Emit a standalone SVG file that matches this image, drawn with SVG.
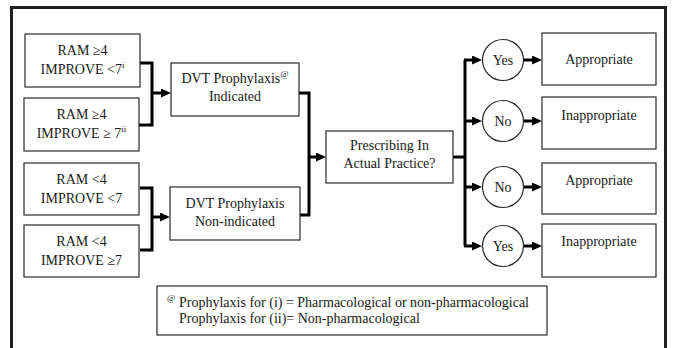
<svg xmlns="http://www.w3.org/2000/svg" width="673" height="348" viewBox="0 0 673 348">
<style>
.box{fill:#fff;stroke:#2a2a2a;stroke-width:1.2}
.t{font-family:'Liberation Serif',Tinos,'Times New Roman','DejaVu Serif',serif;font-size:14px;fill:#1a1a1a;text-anchor:middle}
.tl{font-family:'Liberation Serif',Tinos,'Times New Roman','DejaVu Serif',serif;font-size:14px;fill:#1a1a1a}
.sup{font-size:9px}
.c{fill:none;stroke:#000;stroke-width:3}
</style>
<defs>
<marker id="ah" markerUnits="userSpaceOnUse" markerWidth="11" markerHeight="10" refX="2" refY="4.5" orient="auto">
<path d="M0,0 L10,4.5 L0,9 z" fill="#000"/>
</marker>
</defs>
<rect width="673" height="348" fill="#fff"/>
<path d="M11.5 348 V7.5 H665.5 V348" fill="none" stroke="#222" stroke-width="3"/>

<g id="connectors">
<path class="c" d="M140 63 H152 V125 H139"/>
<path class="c" d="M152 93 H163" marker-end="url(#ah)"/>
<path class="c" d="M140 188 H152 V250 H140"/>
<path class="c" d="M152 217 H162" marker-end="url(#ah)"/>
<path class="c" d="M299 93 H309 V215 H300"/>
<path class="c" d="M309 157 H318" marker-end="url(#ah)"/>
<path class="c" d="M453 157 H465"/>
<path class="c" d="M465 60 V246"/>
<path class="c" d="M464 60 H474" marker-end="url(#ah)"/>
<path class="c" d="M464 121 H474" marker-end="url(#ah)"/>
<path class="c" d="M464 187 H474" marker-end="url(#ah)"/>
<path class="c" d="M464 246 H474" marker-end="url(#ah)"/>
<path class="c" d="M524 60 H534" marker-end="url(#ah)"/>
<path class="c" d="M524 121 H534" marker-end="url(#ah)"/>
<path class="c" d="M524 187 H534" marker-end="url(#ah)"/>
<path class="c" d="M524 246 H534" marker-end="url(#ah)"/>
</g>

<g id="n1"><rect class="box" x="25" y="34" width="115" height="53"/>
<text class="t" x="82.5" y="55">RAM ≥4</text>
<text class="t" x="82.5" y="74">IMPROVE &lt;7<tspan class="sup" dy="-6">i</tspan></text></g>
<g id="n2"><rect class="box" x="24" y="98" width="115" height="53"/>
<text class="t" x="81.5" y="119">RAM ≥4</text>
<text class="t" x="81.5" y="138">IMPROVE ≥ 7<tspan class="sup" dy="-6">ii</tspan></text></g>
<g id="n3"><rect class="box" x="24" y="163" width="115" height="52"/>
<text class="t" x="81.5" y="184">RAM &lt;4</text>
<text class="t" x="81.5" y="203">IMPROVE &lt;7</text></g>
<g id="n4"><rect class="box" x="24" y="225" width="115" height="52"/>
<text class="t" x="81.5" y="246">RAM &lt;4</text>
<text class="t" x="81.5" y="265">IMPROVE ≥7</text></g>

<g id="dvt1"><rect class="box" x="171" y="63" width="128" height="53"/>
<text class="t" x="235" y="83">DVT Prophylaxis<tspan class="sup" dy="-6">@</tspan></text>
<text class="t" x="235" y="101">Indicated</text></g>
<g id="dvt2"><rect class="box" x="170" y="187" width="130" height="53"/>
<text class="t" x="235" y="208">DVT Prophylaxis</text>
<text class="t" x="235" y="226">Non-indicated</text></g>

<g id="presc"><rect class="box" x="326" y="131" width="127" height="52"/>
<text class="t" x="389.5" y="150">Prescribing In</text>
<text class="t" x="389.5" y="168">Actual Practice?</text></g>

<g id="c1"><ellipse class="box" cx="503" cy="60" rx="20.5" ry="20.5"/><text class="t" x="503" y="65">Yes</text></g>
<g id="c2"><ellipse class="box" cx="503" cy="121" rx="20.5" ry="20.5"/><text class="t" x="503" y="126">No</text></g>
<g id="c3"><ellipse class="box" cx="503" cy="187" rx="20.5" ry="20.5"/><text class="t" x="503" y="192">No</text></g>
<g id="c4"><ellipse class="box" cx="503" cy="246" rx="20.5" ry="20.5"/><text class="t" x="503" y="251">Yes</text></g>

<g id="r1"><rect class="box" x="542" y="33" width="114" height="52"/><text class="t" x="599" y="64">Appropriate</text></g>
<g id="r2"><rect class="box" x="542" y="97" width="114" height="52"/><text class="t" x="599" y="120">Inappropriate</text></g>
<g id="r3"><rect class="box" x="542" y="163" width="114" height="51"/><text class="t" x="599" y="185">Appropriate</text></g>
<g id="r4"><rect class="box" x="542" y="224" width="114" height="53"/><text class="t" x="599" y="246">Inappropriate</text></g>

<g id="legend"><rect class="box" x="157" y="286" width="390" height="49"/>
<text class="tl" x="167" y="307"><tspan class="sup" dy="-6">@</tspan><tspan x="179" dy="6">Prophylaxis for (i) = Pharmacological or non-pharmacological</tspan></text>
<text class="tl" x="179" y="323">Prophylaxis for (ii)= Non-pharmacological</text></g>
</svg>
